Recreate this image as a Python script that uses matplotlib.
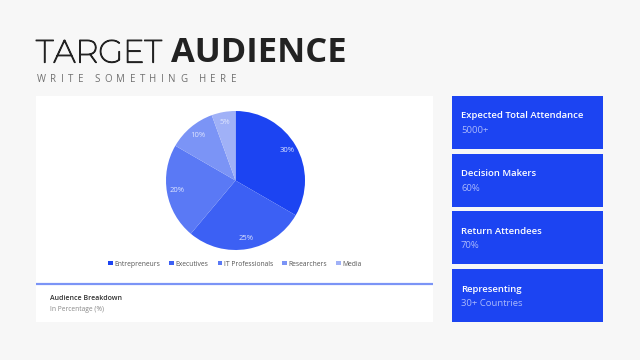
import matplotlib
matplotlib.use("Agg")
import matplotlib.pyplot as plt
import matplotlib.patheffects as pe
from matplotlib.patches import Rectangle
from matplotlib.transforms import IdentityTransform, blended_transform_factory

categories = ["Entrepreneurs", "Executives", "IT Professionals", "Researchers", "Media"]
values = [30, 25, 20, 10, 5]
colors = ["#1c44f2", "#3c60f4", "#5a79f5", "#7b94f6", "#a0b1f7"]

card_titles = ["Expected Total Attendance", "Decision Makers", "Return Attendees", "Representing"]
card_values = ["5000+", "60%", "70%", "30+ Countries"]

title_light = "TARGET"
title_bold = "AUDIENCE"
subtitle = "WRITE SOMETHING HERE"
panel_title = "Audience Breakdown"
panel_sub = "In Percentage (%)"

W, H = 640, 360
fig = plt.figure(figsize=(6.4, 3.6), dpi=100)
fig.patch.set_facecolor("#f7f7f7")

bg = fig.add_axes([0, 0, 1, 1])
bg.set_xlim(0, W)
bg.set_ylim(H, 0)
bg.axis("off")

FONT = ["Open Sans", "DejaVu Sans"]
MONT = ["Montserrat", "DejaVu Sans"]

fig.canvas.draw()
renderer = fig.canvas.get_renderer()
xform = blended_transform_factory(IdentityTransform(), bg.transData)

# Title
t1 = bg.text(36, 62.5, title_light, fontsize=23, family=MONT,
             color="#222222", va="baseline", ha="left",
             path_effects=[pe.withStroke(linewidth=0.9, foreground="#222222")])
x1 = t1.get_window_extent(renderer).x1
bg.text(x1 + 9, 62.5, title_bold, fontsize=24.8, family=FONT, fontweight="bold",
        color="#222222", va="baseline", ha="left", transform=xform)

# Letter-spaced subtitle
x0 = bg.transData.transform((37, 0))[0]
x_end = bg.transData.transform((236, 0))[0]
widths = []
for ch in subtitle:
    if ch == " ":
        widths.append(2.5)
    else:
        tt = bg.text(0, 0, ch, fontsize=7, family=FONT)
        widths.append(tt.get_window_extent(renderer).width)
        tt.remove()
track = (x_end - x0 - sum(widths)) / (len(subtitle) - 1)
x = x0
for ch, w in zip(subtitle, widths):
    if ch != " ":
        bg.text(x, 82, ch, fontsize=7, family=FONT, color="#707070",
                va="baseline", ha="left", transform=xform)
    x += w + track

# White panel
bg.add_patch(Rectangle((36, 96), 397, 226, facecolor="white", edgecolor="none"))
bg.plot([36, 433], [284, 284], color="#7b94f6", lw=1.6, solid_capstyle="butt")
bg.text(50, 299, panel_title, fontsize=5.0, family=FONT, fontweight="semibold",
        color="#333333", va="center", ha="left")
bg.text(50, 309.5, panel_sub, fontsize=4.8, family=FONT, color="#888888",
        va="center", ha="left")

# Cards
card_tops = [96, 154, 211, 269]
for top, title, val in zip(card_tops, card_titles, card_values):
    bg.add_patch(Rectangle((452, top), 151, 53, facecolor="#1c44f2", edgecolor="none"))
    bg.text(461, top + 20, title, fontsize=6.8, family=FONT, fontweight="semibold",
            color="white", va="center", ha="left")
    bg.text(461, top + 34.5, val, fontsize=6.8, family=FONT, color="#a9b8fb",
            va="center", ha="left")

# Pie
cx, cy, r = 235.5, 180.5, 69.5
pax = fig.add_axes([(cx - r) / W, 1 - (cy + r) / H, 2 * r / W, 2 * r / H])
total = sum(values)
wedges, texts, autotexts = pax.pie(values, colors=colors, startangle=90, counterclock=False,
                                   radius=1.0, autopct=lambda p: f"{p * total / 100:.0f}%",
                                   pctdistance=0.85, wedgeprops=dict(linewidth=0),
                                   textprops=dict(fontsize=5.5, color="#dfe5fe", family=FONT))
pax.set_xlim(-1, 1)
pax.set_ylim(-1, 1)
pax.set_aspect("equal")
pax.axis("off")

# Legend
leg = fig.legend(wedges, categories, loc="center", bbox_to_anchor=(235 / W, 1 - 264 / H),
                 ncol=5, frameon=False, handlelength=0.65, handleheight=0.65,
                 handletextpad=0.3, columnspacing=1.3, prop=dict(family=FONT, size=4.9))
for t in leg.get_texts():
    t.set_color("#555555")

fig.savefig("out.png", dpi=100, facecolor=fig.get_facecolor())
